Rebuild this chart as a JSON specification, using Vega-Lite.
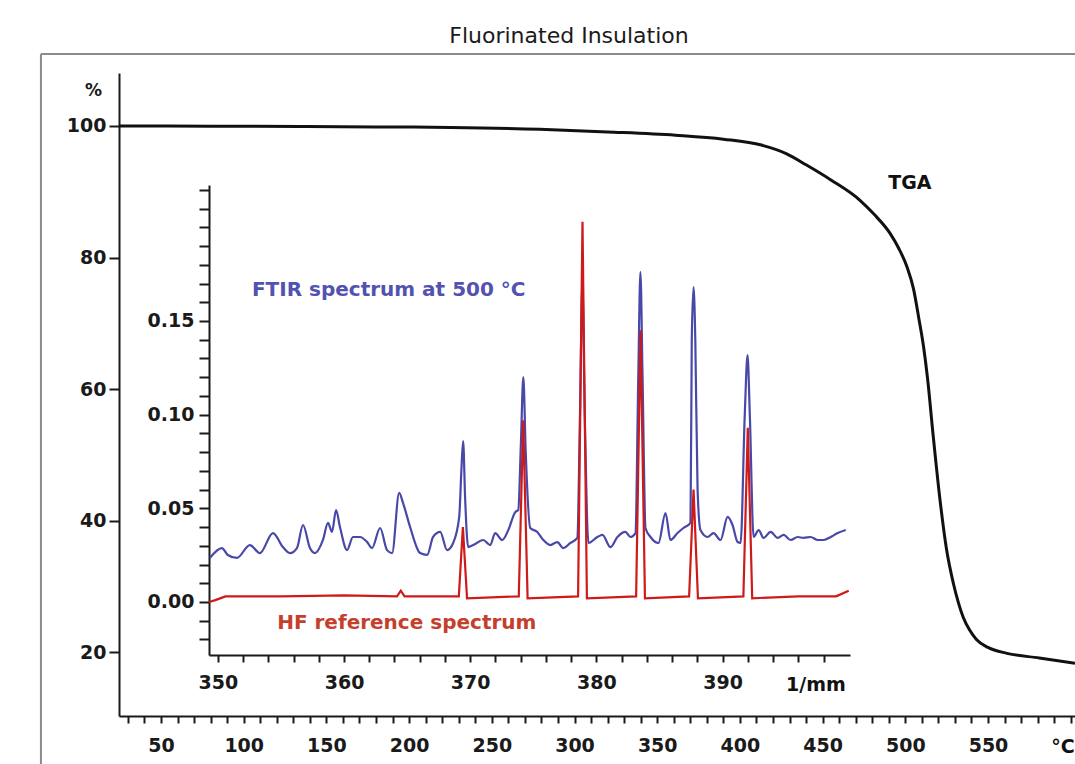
{
  "$schema": "https://vega.github.io/schema/vega-lite/v6.json",
  "width": 956,
  "height": 643,
  "autosize": {"type": "none"},
  "padding": {"left": 119, "top": 73, "right": 0, "bottom": 48},
  "background": "white",
  "title": {"text": "Fluorinated Insulation", "anchor": "middle", "frame": "group", "dx": -28, "offset": 5, "fontSize": 22, "fontWeight": "normal", "font": "DejaVu Sans", "color": "#1a1a1a"},
  "config": {
    "view": {"stroke": null},
    "axis": {"grid": false, "labelFont": "DejaVu Sans", "labelFontWeight": "bold", "labelFontSize": 19, "labelColor": "#1a1a1a", "domainColor": "#1a1a1a", "domainWidth": 2, "tickColor": "#1a1a1a", "tickWidth": 2, "labelFlush": false, "labelOverlap": false, "labelBound": false, "title": null, "tickCount": 200},
    "text": {"font": "DejaVu Sans", "fontWeight": "bold"}
  },
  "datasets": {
    "tga": [
      {"T": 24.6, "W": 100}, {"T": 80, "W": 99.98}, {"T": 134, "W": 99.92}, {"T": 180, "W": 99.86}, {"T": 225, "W": 99.78},
      {"T": 279, "W": 99.5}, {"T": 320, "W": 99.1}, {"T": 361, "W": 98.6}, {"T": 390, "W": 98.0}, {"T": 413, "W": 97.1},
      {"T": 428, "W": 95.8}, {"T": 440, "W": 94.1}, {"T": 455, "W": 91.8}, {"T": 472.6, "W": 88.7}, {"T": 481, "W": 86.6},
      {"T": 490.7, "W": 83.7}, {"T": 496, "W": 81.4}, {"T": 501, "W": 78.6}, {"T": 505, "W": 75.2}, {"T": 508, "W": 71.0},
      {"T": 511, "W": 66.5}, {"T": 513.5, "W": 61.5}, {"T": 516.7, "W": 53.3}, {"T": 521, "W": 43.1}, {"T": 525, "W": 35.5},
      {"T": 529, "W": 30.5}, {"T": 532, "W": 27.6}, {"T": 535, "W": 25.3}, {"T": 539, "W": 23.3}, {"T": 543, "W": 21.9},
      {"T": 550, "W": 20.7}, {"T": 561.5, "W": 19.8}, {"T": 581, "W": 19.1}, {"T": 602.6, "W": 18.3}
    ],
    "ftir": [
      {"wn": 349.37, "a": 0.0235}, {"wn": 350.32, "a": 0.0288}, {"wn": 350.79, "a": 0.0251}, {"wn": 351.51, "a": 0.0235},
      {"wn": 352.54, "a": 0.0304}, {"wn": 353.33, "a": 0.0261}, {"wn": 354.37, "a": 0.0368}, {"wn": 355.16, "a": 0.0293},
      {"wn": 355.71, "a": 0.0261}, {"wn": 356.27, "a": 0.0288}, {"wn": 356.75, "a": 0.0411}, {"wn": 357.30, "a": 0.0288},
      {"wn": 357.70, "a": 0.0261}, {"wn": 358.33, "a": 0.0331}, {"wn": 358.73, "a": 0.0422}, {"wn": 359.05, "a": 0.0374},
      {"wn": 359.37, "a": 0.0491}, {"wn": 359.68, "a": 0.0400}, {"wn": 360.24, "a": 0.0277}, {"wn": 360.71, "a": 0.0347},
      {"wn": 361.27, "a": 0.0347}, {"wn": 361.83, "a": 0.0320}, {"wn": 362.22, "a": 0.0288}, {"wn": 362.86, "a": 0.0395},
      {"wn": 363.41, "a": 0.0277}, {"wn": 363.81, "a": 0.0261}, {"wn": 364.37, "a": 0.0582}, {"wn": 364.68, "a": 0.0528},
      {"wn": 365.24, "a": 0.0400}, {"wn": 366.03, "a": 0.0261}, {"wn": 366.59, "a": 0.0251}, {"wn": 367.06, "a": 0.0347},
      {"wn": 367.62, "a": 0.0374}, {"wn": 368.17, "a": 0.0277}, {"wn": 368.65, "a": 0.0315}, {"wn": 369.13, "a": 0.0454},
      {"wn": 369.30, "a": 0.0700}, {"wn": 369.44, "a": 0.0859}, {"wn": 369.60, "a": 0.0550}, {"wn": 369.84, "a": 0.0293},
      {"wn": 370.24, "a": 0.0304}, {"wn": 371.03, "a": 0.0331}, {"wn": 371.59, "a": 0.0304}, {"wn": 371.98, "a": 0.0368},
      {"wn": 372.54, "a": 0.0331}, {"wn": 373.02, "a": 0.0384}, {"wn": 373.57, "a": 0.0480}, {"wn": 373.81, "a": 0.0491},
      {"wn": 374.02, "a": 0.0850}, {"wn": 374.21, "a": 0.1201}, {"wn": 374.40, "a": 0.0800}, {"wn": 374.76, "a": 0.0395},
      {"wn": 375.32, "a": 0.0374}, {"wn": 375.79, "a": 0.0331}, {"wn": 376.35, "a": 0.0304}, {"wn": 376.90, "a": 0.0320},
      {"wn": 377.38, "a": 0.0288}, {"wn": 377.94, "a": 0.0315}, {"wn": 378.49, "a": 0.0342}, {"wn": 378.70, "a": 0.1000},
      {"wn": 378.89, "a": 0.1700}, {"wn": 379.08, "a": 0.1000}, {"wn": 379.37, "a": 0.0315}, {"wn": 380.08, "a": 0.0347},
      {"wn": 380.48, "a": 0.0358}, {"wn": 381.11, "a": 0.0293}, {"wn": 381.67, "a": 0.0347}, {"wn": 382.30, "a": 0.0374},
      {"wn": 382.70, "a": 0.0347}, {"wn": 383.10, "a": 0.0368}, {"wn": 383.32, "a": 0.1200}, {"wn": 383.49, "a": 0.1761},
      {"wn": 383.66, "a": 0.1200}, {"wn": 383.89, "a": 0.0395}, {"wn": 384.29, "a": 0.0347}, {"wn": 384.92, "a": 0.0315},
      {"wn": 385.48, "a": 0.0475}, {"wn": 385.87, "a": 0.0331}, {"wn": 386.43, "a": 0.0368}, {"wn": 386.90, "a": 0.0395},
      {"wn": 387.46, "a": 0.0422}, {"wn": 387.56, "a": 0.1400}, {"wn": 387.70, "a": 0.1681}, {"wn": 387.84, "a": 0.1400},
      {"wn": 388.02, "a": 0.0600}, {"wn": 388.25, "a": 0.0384}, {"wn": 388.81, "a": 0.0347}, {"wn": 389.29, "a": 0.0368},
      {"wn": 389.84, "a": 0.0331}, {"wn": 390.40, "a": 0.0454}, {"wn": 390.79, "a": 0.0411}, {"wn": 391.19, "a": 0.0320},
      {"wn": 391.43, "a": 0.0315}, {"wn": 391.76, "a": 0.1000}, {"wn": 391.98, "a": 0.1318}, {"wn": 392.16, "a": 0.1000},
      {"wn": 392.46, "a": 0.0347}, {"wn": 392.86, "a": 0.0384}, {"wn": 393.25, "a": 0.0342}, {"wn": 393.81, "a": 0.0374},
      {"wn": 394.37, "a": 0.0342}, {"wn": 394.84, "a": 0.0358}, {"wn": 395.40, "a": 0.0331}, {"wn": 395.95, "a": 0.0347},
      {"wn": 396.43, "a": 0.0342}, {"wn": 396.98, "a": 0.0347}, {"wn": 397.54, "a": 0.0331}, {"wn": 398.02, "a": 0.0331},
      {"wn": 398.57, "a": 0.0347}, {"wn": 399.13, "a": 0.0368}, {"wn": 399.76, "a": 0.0384}
    ],
    "hf": [
      {"wn": 349.3, "a": 0.0}, {"wn": 349.8, "a": 0.001}, {"wn": 350.6, "a": 0.003}, {"wn": 355, "a": 0.003},
      {"wn": 360, "a": 0.0035}, {"wn": 364.2, "a": 0.003}, {"wn": 364.5, "a": 0.006}, {"wn": 364.8, "a": 0.003},
      {"wn": 369.1, "a": 0.003}, {"wn": 369.42, "a": 0.040}, {"wn": 369.75, "a": 0.002},
      {"wn": 373.85, "a": 0.003}, {"wn": 374.2, "a": 0.097}, {"wn": 374.55, "a": 0.002},
      {"wn": 378.55, "a": 0.003}, {"wn": 378.9, "a": 0.203}, {"wn": 379.25, "a": 0.002},
      {"wn": 383.15, "a": 0.003}, {"wn": 383.5, "a": 0.145}, {"wn": 383.85, "a": 0.002},
      {"wn": 387.35, "a": 0.003}, {"wn": 387.7, "a": 0.060}, {"wn": 388.05, "a": 0.002},
      {"wn": 391.65, "a": 0.003}, {"wn": 392.0, "a": 0.093}, {"wn": 392.35, "a": 0.002},
      {"wn": 396, "a": 0.003}, {"wn": 399, "a": 0.003}, {"wn": 400, "a": 0.006}
    ]
  },
  "layer": [
    {
      "layer": [
        {
          "data": {"name": "tga"},
          "mark": {"type": "line", "color": "#111111", "strokeWidth": 3, "interpolate": "monotone"},
          "encoding": {
            "x": {"field": "T", "type": "quantitative",
                  "scale": {"domain": [24.6, 602.6], "nice": false, "zero": false},
                  "axis": {"orient": "bottom", "title": null, "format": "d", "values": [30,40,50,60,70,80,90,100,110,120,130,140,150,160,170,180,190,200,210,220,230,240,250,260,270,280,290,300,310,320,330,340,350,360,370,380,390,400,410,420,430,440,450,460,470,480,490,500,510,520,530,540,550,560,570,580,590,600],
                           "labelExpr": "(datum.value % 50 === 0 && datum.value < 600) ? datum.label : ''",
                           "tickSize": 7, "labelPadding": 13}},
            "y": {"field": "W", "type": "quantitative",
                  "scale": {"domain": [10.27, 108.06], "nice": false, "zero": false},
                  "axis": {"orient": "left", "title": "%", "format": "d", "values": [20, 40, 60, 80, 100], "tickSize": 10, "labelPadding": 3,
                           "titleAngle": 0, "titleX": -26, "titleY": 17, "titleAlign": "center", "titleBaseline": "middle",
                           "titleFont": "DejaVu Sans", "titleFontSize": 17, "titleFontWeight": "bold", "titleColor": "#1a1a1a"}}
          }
        },
        {
          "data": {"values": [{}]},
          "mark": {"type": "rule", "color": "#8c8c8c", "strokeWidth": 2},
          "encoding": {
            "x": {"datum": -22.6, "type": "quantitative"},
            "x2": {"datum": 660},
            "y": {"datum": 110.95, "type": "quantitative"}
          }
        },
        {
          "data": {"values": [{}]},
          "mark": {"type": "rule", "color": "#8c8c8c", "strokeWidth": 2},
          "encoding": {
            "x": {"datum": -22.6, "type": "quantitative"},
            "y": {"datum": 110.95, "type": "quantitative"},
            "y2": {"datum": 0}
          }
        },
        {
          "data": {"values": [{}]},
          "mark": {"type": "text", "text": "TGA", "fontSize": 19, "color": "#111111", "align": "center", "baseline": "middle"},
          "encoding": {
            "x": {"datum": 502.8, "type": "quantitative"},
            "y": {"datum": 91.3, "type": "quantitative"}
          }
        },
        {
          "data": {"values": [{}]},
          "mark": {"type": "text", "text": "°C", "fontSize": 19, "color": "#111111", "align": "center", "baseline": "middle"},
          "encoding": {
            "x": {"datum": 595.3, "type": "quantitative"},
            "y": {"datum": 5.55, "type": "quantitative"}
          }
        }
      ]
    },
    {
      "layer": [
        {
          "data": {"name": "ftir"},
          "mark": {"type": "line", "color": "#4848a8", "strokeWidth": 2.2, "interpolate": "monotone"},
          "encoding": {
            "x": {"field": "wn", "type": "quantitative",
                  "scale": {"domain": [349.3, 400.1], "range": [90, 731], "nice": false, "zero": false},
                  "axis": {"orient": "bottom", "offset": -61, "title": null, "format": "d",
                           "values": [350,352,354,356,358,360,362,364,366,368,370,372,374,376,378,380,382,384,386,388,390,392,394,396,398],
                           "labelExpr": "(datum.value % 10 === 0) ? datum.label : ''",
                           "tickSize": 7, "labelPadding": 11}},
            "y": {"field": "a", "type": "quantitative",
                  "scale": {"domain": [-0.0283, 0.2226], "range": [582, 112], "nice": false, "zero": false},
                  "axis": {"orient": "left", "offset": -90, "title": null,
                           "values": [-0.02,-0.01,0,0.01,0.02,0.03,0.04,0.05,0.06,0.07,0.08,0.09,0.1,0.11,0.12,0.13,0.14,0.15,0.16,0.17,0.18,0.19,0.2,0.21,0.22],
                           "labelExpr": "(round(datum.value * 100) % 5 === 0 && datum.value > -0.005 && datum.value < 0.16) ? format(datum.value, '.2f') : ''",
                           "tickSize": 10, "labelPadding": 5}}
          }
        },
        {
          "data": {"name": "hf"},
          "mark": {"type": "line", "color": "#cf1a1a", "strokeWidth": 2.2},
          "encoding": {
            "x": {"field": "wn", "type": "quantitative"},
            "y": {"field": "a", "type": "quantitative"}
          }
        },
        {
          "data": {"values": [{}]},
          "mark": {"type": "text", "text": "FTIR spectrum at 500 °C", "fontSize": 20, "color": "#5252b0", "align": "left", "baseline": "middle"},
          "encoding": {
            "x": {"datum": 352.7, "type": "quantitative"},
            "y": {"datum": 0.1665, "type": "quantitative"}
          }
        },
        {
          "data": {"values": [{}]},
          "mark": {"type": "text", "text": "HF reference spectrum", "fontSize": 20, "color": "#c4402c", "align": "left", "baseline": "middle"},
          "encoding": {
            "x": {"datum": 354.7, "type": "quantitative"},
            "y": {"datum": -0.0112, "type": "quantitative"}
          }
        },
        {
          "data": {"values": [{}]},
          "mark": {"type": "text", "text": "1/mm", "fontSize": 19, "color": "#111111", "align": "center", "baseline": "middle"},
          "encoding": {
            "x": {"datum": 397.4, "type": "quantitative"},
            "y": {"datum": -0.0443, "type": "quantitative"}
          }
        }
      ]
    }
  ],
  "resolve": {"scale": {"x": "independent", "y": "independent"}, "axis": {"x": "independent", "y": "independent"}}
}
